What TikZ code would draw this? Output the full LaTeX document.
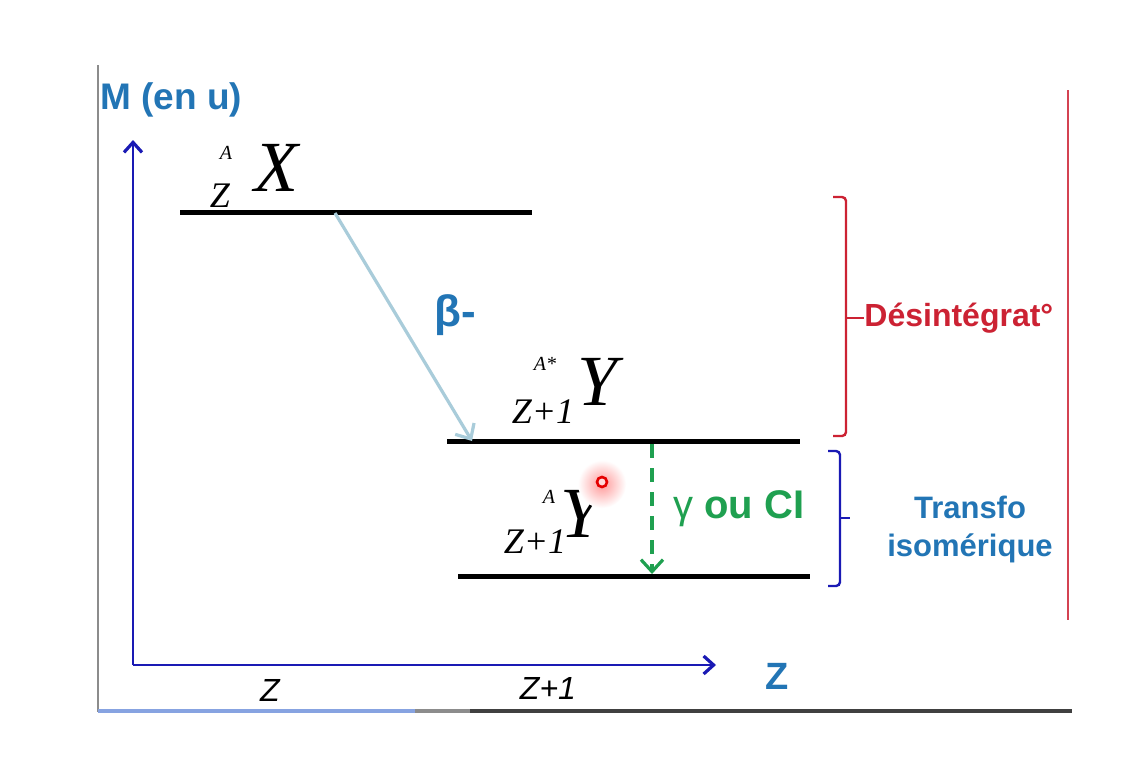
\documentclass[tikz,border=0pt]{standalone}
\usepackage{fontspec}
\setmainfont{Liberation Serif}
\setsansfont{Liberation Sans}
\usetikzlibrary{arrows.meta}
\definecolor{axisblue}{HTML}{1A1AB4}
\definecolor{labelblue}{HTML}{2275B5}
\definecolor{betablue}{HTML}{A9CCDA}
\definecolor{decred}{HTML}{CC2233}
\definecolor{gamgreen}{HTML}{1FA050}
\tikzset{
  level/.style={line width=2.5pt, black},
  axisline/.style={line width=1.4pt, axisblue, -{Straight Barb[length=5pt,width=9pt,line width=1.6pt]}},
  nucl/.style={inner sep=0pt, font=\itshape\fontsize{36}{36}\selectfont},
  nuclup/.style={inner sep=0pt, font=\itshape\fontsize{10}{10}\selectfont},
  nucldown/.style={inner sep=0pt, font=\itshape\fontsize{18}{18}\selectfont},
  sidelabel/.style={inner sep=0pt, font=\sffamily\bfseries\fontsize{15.5}{19}\selectfont, align=center},
  zlabel/.style={inner sep=0pt, font=\sffamily\itshape\fontsize{16}{16}\selectfont},
}

\begin{document}
\begin{tikzpicture}[x=0.5pt, y=-0.5pt]
  %%%%% START %%%%%
  \useasboundingbox[fill=white] (0,0) rectangle (1128,760);

  % frame of the slide
  \draw[line width=1pt, black!45] (98,65) -- (98,712);
  \fill[betablue!80!blue] (98,709) rectangle (415,713);
  \fill[black!45] (415,709) rectangle (470,713);
  \fill[black!75] (470,709) rectangle (1072,713);
  \draw[line width=1pt, decred!85!white] (1068,90) -- (1068,620);

  % axes
  \coordinate (O) at (133,665);
  \draw[axisline] (O) -- (133,140);
  \draw[axisline] (O) -- (716,665);
  \node[sidelabel, text=labelblue, anchor=west, font=\sffamily\bfseries\fontsize{18.5}{18.5}\selectfont] (M) at (100,100) {M (en u)};
  \node[sidelabel, text=labelblue, font=\sffamily\bfseries\fontsize{19}{19}\selectfont] (zax) at (777,676) {Z};
  \node[zlabel] (zlab) at (270,690) {Z};
  \node[zlabel] (z1lab) at (548,688) {Z+1};

  % levels
  \draw[level] (180,212) -- (532,212);
  \draw[level] (447,441) -- (800,441);
  \draw[level] (458,576) -- (810,576);

  % nuclei
  \node[nucl] (X) at (276,168) {X};
  \node[nuclup] (XA) at (226,153) {A};
  \node[nucldown] (XZ) at (220,196) {Z};

  \node[nucl] (Ys) at (598,382) {Y};
  \node[nuclup] (YsA) at (545,364) {A*};
  \node[nucldown] (YsZ) at (543,412) {Z+1};

  \node[nucl] (Y) at (581,514) {Y};
  \node[nuclup] (YA) at (549,497) {A};
  \node[nucldown] (YZ) at (535,542) {Z+1};

  % excited mark
  \shade[inner color=red!40, outer color=white] (602,484) circle (24);
  \draw[line width=1.3pt, red!90!black, fill=red!15] (602,482) circle (5);

  % beta decay
  \coordinate (bstart) at (335,213);
  \coordinate (bend) at (472,441);
  \draw[line width=1.6pt, betablue, -{Straight Barb[length=6pt,width=11pt,line width=1.6pt]}] (bstart) -- (bend);
  \node[inner sep=0pt, text=labelblue, font=\sffamily\bfseries\fontsize{22}{22}\selectfont] (beta) at (455,315) {β-};

  % gamma / CI
  \coordinate (gstart) at (652,444);
  \coordinate (gend) at (652,574);
  \draw[line width=1.6pt, gamgreen, dash pattern=on 7pt off 5pt, -{Straight Barb[length=6pt,width=11pt,line width=1.6pt]}] (gstart) -- (gend);
  \node[inner sep=0pt, anchor=west, text=gamgreen, font=\sffamily\fontsize{20}{20}\selectfont] (gam) at (673,509) {γ\textbf{ ou CI}};

  % brackets
  \draw[line width=1.2pt, decred, rounded corners=2pt] (833,197) -- (846,197) -- (846,436) -- (833,436);
  \node[sidelabel, text=decred, anchor=west, font=\sffamily\bfseries\fontsize{16}{16}\selectfont] (desint) at (864,318) {Désintégrat°};
  \draw[line width=1.2pt, decred] (846,318) -- (desint.west);

  \draw[line width=1.2pt, axisblue, rounded corners=2pt] (828,451) -- (840,451) -- (840,586) -- (828,586);
  \node[sidelabel, text=labelblue] (iso) at (970,529) {Transfo\\isomérique};
  \draw[line width=1.2pt, axisblue] (840,518) -- (850,518);

  %%%%% END %%%%%
\end{tikzpicture}
\end{document}
